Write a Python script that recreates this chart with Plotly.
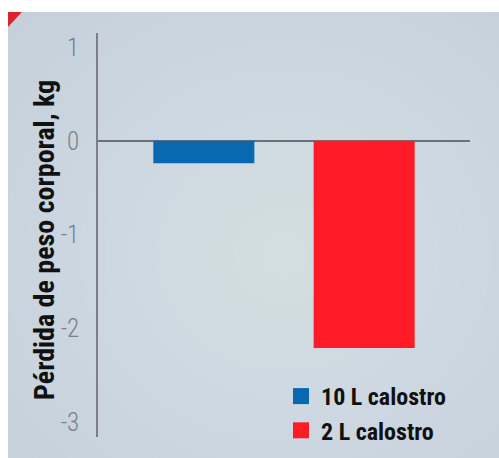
import plotly.graph_objects as go

# ---- data ----
categories = ["10 L calostro", "2 L calostro"]
values = [-0.24, -2.21]
bar_colors = ["#0a68b0", "#ff1c27"]
tick_vals = [1, 0, -1, -2, -3]
tick_text = ["1", "0", "-1", "-2", "-3"]
y_title = "Pérdida de peso corporal, kg"

W, H = 499, 458
ML, MR, MT, MB = 98, 29, 33, 21
PW, PH = W - ML - MR, H - MT - MB
FONT = "Roboto Condensed, Liberation Sans Narrow, DejaVu Sans Condensed, Roboto"


def px(x):
    return (x - ML) / PW


def py(y):
    return (H - MB - y) / PH


fig = go.Figure()
for cat, val, col in zip(categories, values, bar_colors):
    fig.add_trace(go.Bar(x=[cat], y=[val], marker=dict(color=col, line=dict(width=0)),
                         width=0.63, showlegend=False, hoverinfo="skip"))
for cat, col in zip(categories, bar_colors):
    fig.add_trace(go.Scatter(x=[None], y=[None], mode="markers", name=cat,
                             marker=dict(symbol="square", size=16, color=col)))

shapes = [dict(type="rect", xref="paper", yref="paper", x0=px(8), x1=px(W + 2),
               y0=py(H + 2), y1=py(12), fillcolor="#c5d0da", line=dict(width=0), layer="below")]
# soft radial lightening
cx, cy = 285, 255
n = 14
for i in range(n):
    f = 1 - i / n
    rx, ry = 360 * f, 330 * f
    shapes.append(dict(type="circle", xref="paper", yref="paper",
                       x0=px(cx - rx), x1=px(cx + rx), y0=py(cy + ry), y1=py(cy - ry),
                       fillcolor="rgba(255,255,255,0.032)", line=dict(width=0), layer="below"))
shapes.append(dict(type="path", xref="paper", yref="paper",
                   path=f"M{px(8)},{py(12)} L{px(22)},{py(12)} L{px(8)},{py(27)} Z",
                   fillcolor="#e0222a", line=dict(width=0), layer="above"))

fig.update_layout(
    width=W, height=H,
    margin=dict(l=ML, r=MR, t=MT, b=MB, autoexpand=False),
    paper_bgcolor="white", plot_bgcolor="rgba(0,0,0,0)",
    shapes=shapes,
    xaxis=dict(range=[-0.66, 1.66], showticklabels=False, showgrid=False,
               zeroline=False, showline=False, ticks=""),
    yaxis=dict(range=[-3.16, 1.15], tickvals=tick_vals, ticktext=tick_text,
               showgrid=False, zeroline=True, zerolinecolor="#6b7178", zerolinewidth=2,
               showline=True, linecolor="#7b8087", linewidth=1.5, ticks="",
               ticklabelstandoff=12, automargin=False,
               tickfont=dict(family=FONT, size=25, color="#7a8189", weight=300)),
    legend=dict(xref="container", yref="container", x=281 / W, y=1 - 374 / H,
                xanchor="left", yanchor="top", tracegroupgap=0,
                bgcolor="rgba(0,0,0,0)", itemsizing="trace",
                font=dict(family=FONT, size=24, color="#111111", weight="bold")),
    annotations=[dict(text=y_title, xref="paper", yref="paper", x=px(44), y=py(240),
                      xanchor="center", yanchor="middle", textangle=-90, showarrow=False,
                      font=dict(family=FONT, size=28, color="#111111", weight="bold"))],
)

fig.write_html("out.html", config={"displayModeBar": False},
               post_script="document.body.style.margin='0';document.body.style.overflow='hidden';")
